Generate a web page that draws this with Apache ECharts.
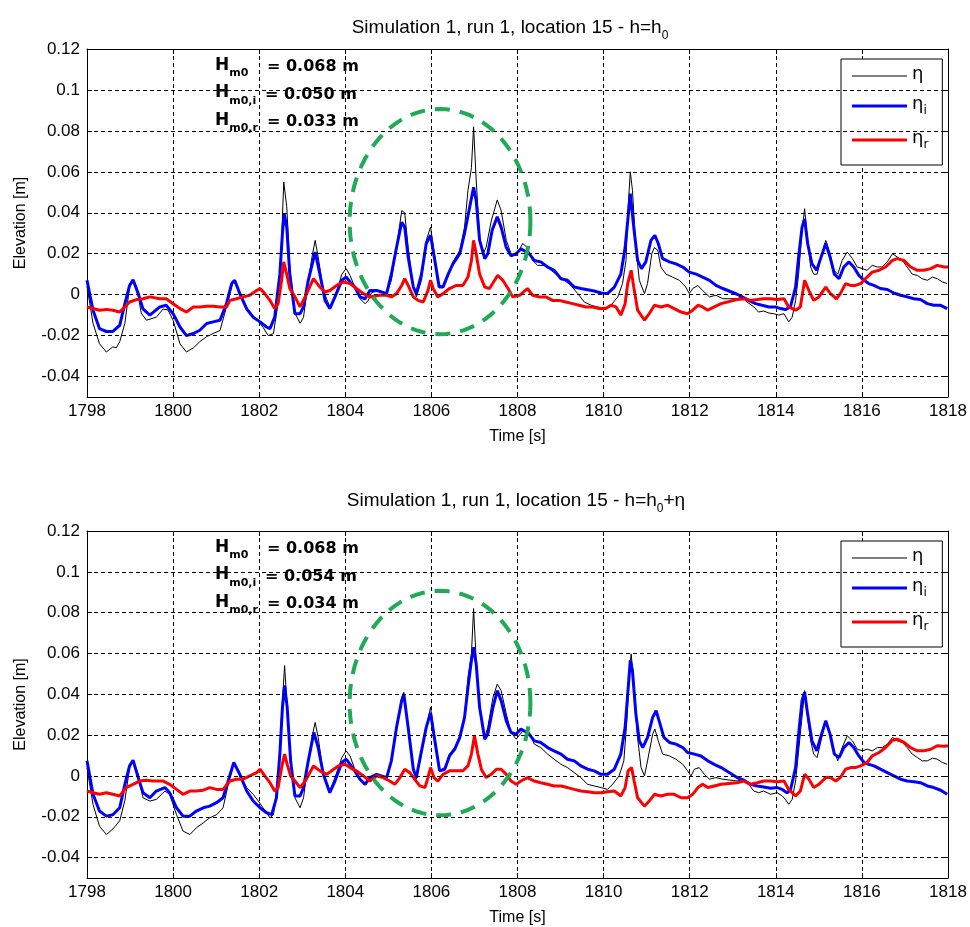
<!DOCTYPE html>
<html><head><meta charset="utf-8">
<script src="https://cdn.jsdelivr.net/npm/echarts@6/dist/echarts.min.js"></script>
<style>html,body{margin:0;padding:0;background:#fff}#c{width:970px;height:927px}</style>
</head><body><div id="c"></div>
<script>
// ---------- data ----------
const xTicks = [1798,1800,1802,1804,1806,1808,1810,1812,1814,1816,1818];
const yTicks = [-0.04,-0.02,0,0.02,0.04,0.06,0.08,0.1,0.12];
const titles = ['Simulation 1, run 1, location 15 - h=h', 'Simulation 1, run 1, location 15 - h=h'];
const titleTails = ['', '+η'];
const hm0Values = [['0.068','0.050','0.033'], ['0.068','0.054','0.034']];
const seriesNames = ['η','ηi','ηr'];

const topEta = [[1798.00,0.004],[1798.14,-0.014],[1798.29,-0.024],[1798.45,-0.028],[1798.60,-0.0255],[1798.68,-0.026],[1798.76,-0.023],[1798.88,-0.014],[1798.99,0.004],[1799.07,0.007],[1799.15,0.004],[1799.26,-0.009],[1799.38,-0.0125],[1799.61,-0.011],[1799.77,-0.007],[1799.88,-0.0075],[1800.00,-0.0125],[1800.16,-0.024],[1800.31,-0.028],[1800.47,-0.026],[1800.62,-0.023],[1800.78,-0.0205],[1800.93,-0.019],[1801.09,-0.0175],[1801.24,-0.006],[1801.40,0.007],[1801.51,0.003],[1801.63,-0.003],[1801.78,-0.009],[1801.94,-0.012],[1802.09,-0.016],[1802.21,-0.020],[1802.33,-0.019],[1802.44,-0.004],[1802.52,0.0265],[1802.57,0.055],[1802.64,0.043],[1802.71,0.0135],[1802.83,-0.009],[1802.95,-0.014],[1803.03,-0.011],[1803.14,0.007],[1803.24,0.020],[1803.30,0.0265],[1803.37,0.0184],[1803.49,0.002],[1803.64,-0.006],[1803.76,-0.0011],[1803.92,0.010],[1804.02,0.0127],[1804.11,0.0094],[1804.22,0.0037],[1804.34,-0.002],[1804.46,-0.0044],[1804.53,-0.003],[1804.61,0.001],[1804.80,0.002],[1804.96,0.0005],[1805.07,0.007],[1805.19,0.023],[1805.31,0.041],[1805.38,0.040],[1805.46,0.023],[1805.58,0.0037],[1805.65,-0.0011],[1805.77,0.007],[1805.88,0.0265],[1805.98,0.033],[1806.08,0.0184],[1806.15,0.0054],[1806.27,0.0037],[1806.39,0.010],[1806.50,0.016],[1806.66,0.0216],[1806.77,0.033],[1806.85,0.051],[1806.93,0.062],[1806.98,0.082],[1807.04,0.056],[1807.12,0.028],[1807.20,0.020],[1807.27,0.023],[1807.39,0.036],[1807.53,0.0463],[1807.62,0.041],[1807.74,0.0265],[1807.85,0.020],[1807.97,0.019],[1808.12,0.025],[1808.23,0.023],[1808.35,0.0167],[1808.47,0.0143],[1808.62,0.0143],[1808.78,0.0119],[1808.93,0.0094],[1809.09,0.007],[1809.24,0.0045],[1809.40,0.0005],[1809.55,-0.0036],[1809.71,-0.0052],[1809.86,-0.006],[1810.02,-0.0068],[1810.17,-0.0052],[1810.33,-0.0011],[1810.44,0.0054],[1810.52,0.0167],[1810.57,0.0428],[1810.62,0.060],[1810.67,0.051],[1810.75,0.023],[1810.83,0.007],[1810.95,0.0005],[1811.02,0.0054],[1811.12,0.020],[1811.18,0.023],[1811.26,0.0216],[1811.33,0.0135],[1811.45,0.010],[1811.60,0.0086],[1811.76,0.007],[1811.91,0.0037],[1811.99,0.0005],[1812.07,0.003],[1812.19,0.0045],[1812.30,0.002],[1812.46,-0.0011],[1812.61,-0.0003],[1812.77,-0.002],[1813.10,-0.002],[1813.22,-0.0011],[1813.33,-0.0036],[1813.49,-0.006],[1813.60,-0.0085],[1813.72,-0.008],[1813.84,-0.009],[1813.95,-0.0093],[1814.07,-0.010],[1814.19,-0.0093],[1814.30,-0.0133],[1814.38,-0.011],[1814.46,-0.0028],[1814.53,0.010],[1814.61,0.0314],[1814.67,0.042],[1814.73,0.028],[1814.81,0.0135],[1814.88,0.010],[1814.96,0.010],[1815.05,0.0184],[1815.16,0.0265],[1815.26,0.020],[1815.35,0.0119],[1815.44,0.010],[1815.54,0.0167],[1815.66,0.0208],[1815.78,0.0176],[1815.89,0.0135],[1816.01,0.0127],[1816.12,0.0119],[1816.24,0.0143],[1816.36,0.0135],[1816.47,0.0135],[1816.59,0.016],[1816.71,0.020],[1816.82,0.0184],[1816.94,0.0167],[1817.05,0.0135],[1817.17,0.010],[1817.29,0.0094],[1817.40,0.0078],[1817.52,0.007],[1817.64,0.0086],[1817.75,0.0078],[1817.87,0.0062],[1817.98,0.0054]];

const topEtaI = [[1798.00,0.007],[1798.14,-0.0076],[1798.29,-0.0166],[1798.45,-0.018],[1798.60,-0.018],[1798.76,-0.015],[1798.88,-0.0044],[1798.99,0.0045],[1799.07,0.0073],[1799.19,0.0005],[1799.30,-0.007],[1799.46,-0.010],[1799.69,-0.006],[1799.84,-0.0052],[1800.00,-0.0093],[1800.16,-0.0158],[1800.31,-0.020],[1800.47,-0.019],[1800.62,-0.0174],[1800.78,-0.0141],[1800.93,-0.0133],[1801.09,-0.0125],[1801.24,-0.0044],[1801.36,0.0054],[1801.43,0.007],[1801.55,0.0005],[1801.71,-0.007],[1801.86,-0.011],[1802.02,-0.0133],[1802.17,-0.0158],[1802.25,-0.0166],[1802.36,-0.011],[1802.48,0.010],[1802.54,0.030],[1802.58,0.0395],[1802.64,0.033],[1802.71,0.010],[1802.83,-0.0093],[1802.95,-0.0093],[1803.03,-0.006],[1803.14,0.007],[1803.30,0.0208],[1803.41,0.010],[1803.53,-0.0028],[1803.64,-0.0068],[1803.76,-0.0011],[1803.92,0.007],[1804.02,0.0086],[1804.11,0.0062],[1804.22,0.0037],[1804.34,-0.0011],[1804.46,-0.002],[1804.57,0.002],[1804.73,0.002],[1804.96,0.0005],[1805.07,0.010],[1805.19,0.023],[1805.31,0.0354],[1805.38,0.033],[1805.46,0.0184],[1805.58,0.0037],[1805.65,0.0005],[1805.77,0.010],[1805.88,0.025],[1805.98,0.029],[1806.08,0.0167],[1806.18,0.0037],[1806.27,0.0037],[1806.39,0.010],[1806.50,0.015],[1806.66,0.020],[1806.77,0.030],[1806.89,0.0428],[1806.98,0.0525],[1807.04,0.046],[1807.12,0.0265],[1807.24,0.0176],[1807.31,0.020],[1807.41,0.0314],[1807.53,0.038],[1807.62,0.033],[1807.74,0.023],[1807.85,0.019],[1807.97,0.020],[1808.08,0.0224],[1808.27,0.020],[1808.39,0.0167],[1808.54,0.016],[1808.70,0.0135],[1808.85,0.0119],[1809.01,0.0078],[1809.16,0.007],[1809.32,0.0037],[1809.47,0.003],[1809.63,0.0024],[1809.78,0.0018],[1809.94,0.0008],[1810.09,0.0005],[1810.25,0.0037],[1810.40,0.010],[1810.50,0.023],[1810.56,0.036],[1810.62,0.0493],[1810.70,0.033],[1810.79,0.0167],[1810.88,0.0127],[1810.98,0.016],[1811.10,0.0265],[1811.19,0.029],[1811.27,0.025],[1811.37,0.0176],[1811.53,0.016],[1811.68,0.015],[1811.84,0.0135],[1811.99,0.011],[1812.15,0.010],[1812.30,0.0086],[1812.46,0.007],[1812.61,0.0045],[1812.77,0.003],[1813.10,0.0002],[1813.22,-0.0011],[1813.37,-0.0028],[1813.53,-0.0044],[1813.68,-0.0052],[1813.84,-0.006],[1813.99,-0.006],[1814.11,-0.0068],[1814.22,-0.0073],[1814.34,-0.006],[1814.46,0.0037],[1814.53,0.0184],[1814.61,0.033],[1814.67,0.037],[1814.74,0.025],[1814.84,0.015],[1814.95,0.0119],[1815.04,0.0176],[1815.16,0.025],[1815.26,0.0184],[1815.36,0.010],[1815.47,0.0078],[1815.58,0.0135],[1815.70,0.016],[1815.81,0.0135],[1815.93,0.0094],[1816.05,0.007],[1816.16,0.0054],[1816.28,0.0045],[1816.43,0.003],[1816.59,0.0025],[1816.74,0.0008],[1816.90,-0.0003],[1817.05,-0.0011],[1817.21,-0.002],[1817.36,-0.0024],[1817.52,-0.0044],[1817.67,-0.0052],[1817.83,-0.0052],[1817.98,-0.0068]];

const topEtaR = [[1798.00,-0.006],[1798.14,-0.0068],[1798.29,-0.0076],[1798.45,-0.0072],[1798.60,-0.0076],[1798.76,-0.0085],[1798.88,-0.006],[1798.99,-0.0036],[1799.15,-0.0024],[1799.30,-0.002],[1799.46,-0.0011],[1799.69,-0.002],[1799.84,-0.002],[1800.00,-0.0044],[1800.16,-0.0068],[1800.31,-0.0085],[1800.47,-0.006],[1800.62,-0.006],[1800.78,-0.0057],[1800.93,-0.0057],[1801.09,-0.006],[1801.24,-0.006],[1801.32,-0.0028],[1801.47,-0.002],[1801.63,-0.0011],[1801.78,-0.0003],[1801.94,0.002],[1802.02,0.003],[1802.13,0.0005],[1802.25,-0.0028],[1802.36,-0.0068],[1802.44,-0.0044],[1802.52,0.007],[1802.57,0.016],[1802.64,0.010],[1802.71,0.003],[1802.83,-0.0011],[1802.95,-0.006],[1803.07,-0.001],[1803.26,0.0078],[1803.41,0.0037],[1803.53,0.0013],[1803.64,0.002],[1803.80,0.0045],[1803.95,0.0062],[1804.11,0.0054],[1804.26,0.003],[1804.42,0.0005],[1804.57,-0.0011],[1804.80,-0.0003],[1804.96,-0.0003],[1805.07,-0.0011],[1805.19,0.0005],[1805.31,0.0045],[1805.38,0.0078],[1805.46,0.0045],[1805.58,-0.0011],[1805.69,-0.0028],[1805.81,-0.0036],[1805.92,0.002],[1805.98,0.007],[1806.04,0.003],[1806.15,-0.0011],[1806.27,0.0005],[1806.42,0.003],[1806.58,0.0045],[1806.73,0.0045],[1806.85,0.0086],[1806.93,0.0167],[1806.98,0.0265],[1807.04,0.020],[1807.12,0.010],[1807.24,0.0037],[1807.35,0.003],[1807.47,0.007],[1807.54,0.0094],[1807.66,0.007],[1807.78,0.003],[1807.89,-0.0011],[1808.05,-0.0003],[1808.23,0.003],[1808.35,-0.0003],[1808.50,-0.0011],[1808.66,-0.0011],[1808.81,-0.0028],[1808.97,-0.0028],[1809.12,-0.0036],[1809.28,-0.0044],[1809.43,-0.0052],[1809.59,-0.006],[1809.74,-0.006],[1809.90,-0.0068],[1810.05,-0.0068],[1810.17,-0.0052],[1810.29,-0.006],[1810.40,-0.010],[1810.50,-0.0044],[1810.56,0.0054],[1810.64,0.0119],[1810.70,0.0037],[1810.79,-0.0076],[1810.95,-0.0125],[1811.06,-0.0093],[1811.18,-0.0052],[1811.33,-0.006],[1811.49,-0.0052],[1811.64,-0.0068],[1811.80,-0.0085],[1811.95,-0.0093],[1812.07,-0.0076],[1812.19,-0.0052],[1812.30,-0.006],[1812.42,-0.0076],[1812.57,-0.006],[1812.73,-0.0044],[1813.10,-0.0024],[1813.26,-0.002],[1813.41,-0.0028],[1813.57,-0.0024],[1813.72,-0.002],[1813.88,-0.002],[1814.03,-0.0024],[1814.19,-0.002],[1814.30,-0.006],[1814.46,-0.0076],[1814.57,-0.006],[1814.67,0.007],[1814.77,0.002],[1814.88,-0.0028],[1815.00,-0.0011],[1815.16,0.0037],[1815.27,0.0005],[1815.41,-0.002],[1815.50,0.0005],[1815.62,0.0054],[1815.74,0.0045],[1815.85,0.0045],[1815.97,0.0054],[1816.12,0.0086],[1816.24,0.011],[1816.40,0.0119],[1816.55,0.0135],[1816.71,0.0167],[1816.82,0.0176],[1816.98,0.0167],[1817.13,0.0135],[1817.29,0.0119],[1817.44,0.0119],[1817.60,0.0127],[1817.75,0.0143],[1817.91,0.0135],[1818.00,0.0135]];

const botEta = [[1798.00,0.004],[1798.14,-0.014],[1798.29,-0.0246],[1798.45,-0.0287],[1798.60,-0.026],[1798.76,-0.022],[1798.88,-0.012],[1798.99,0.004],[1799.07,0.0074],[1799.19,0.0008],[1799.30,-0.0107],[1799.46,-0.0123],[1799.61,-0.0115],[1799.81,-0.0074],[1799.92,-0.009],[1800.08,-0.019],[1800.23,-0.027],[1800.39,-0.0287],[1800.54,-0.0254],[1800.70,-0.023],[1800.85,-0.0205],[1801.01,-0.019],[1801.16,-0.0156],[1801.28,-0.0041],[1801.41,0.0066],[1801.55,0.0],[1801.71,-0.0057],[1801.86,-0.009],[1801.98,-0.0123],[1802.09,-0.0156],[1802.25,-0.0205],[1802.33,-0.019],[1802.43,-0.0041],[1802.52,0.030],[1802.59,0.054],[1802.65,0.0336],[1802.73,0.0074],[1802.83,-0.0107],[1802.95,-0.0156],[1803.03,-0.0107],[1803.14,0.0074],[1803.24,0.0205],[1803.30,0.0262],[1803.37,0.0189],[1803.49,0.0008],[1803.64,-0.0074],[1803.76,-0.0008],[1803.92,0.009],[1804.02,0.0123],[1804.11,0.0098],[1804.22,0.0033],[1804.34,-0.0016],[1804.46,-0.0041],[1804.57,-0.0008],[1804.73,0.0008],[1804.96,-0.0008],[1805.07,0.0074],[1805.19,0.0238],[1805.31,0.0385],[1805.36,0.041],[1805.46,0.0238],[1805.58,0.0033],[1805.65,-0.0016],[1805.77,0.0107],[1805.88,0.0238],[1805.98,0.0336],[1806.08,0.0189],[1806.19,0.0025],[1806.31,0.0041],[1806.42,0.0107],[1806.54,0.014],[1806.66,0.0189],[1806.77,0.0287],[1806.85,0.0484],[1806.93,0.0598],[1806.98,0.082],[1807.04,0.0566],[1807.12,0.0336],[1807.24,0.0189],[1807.31,0.0238],[1807.43,0.0385],[1807.53,0.045],[1807.62,0.0418],[1807.74,0.0303],[1807.85,0.0213],[1807.97,0.018],[1808.12,0.022],[1808.27,0.0213],[1808.39,0.0156],[1808.54,0.0139],[1808.70,0.0107],[1808.85,0.0082],[1809.01,0.0057],[1809.16,0.0041],[1809.32,0.0016],[1809.47,-0.0008],[1809.63,-0.0041],[1809.78,-0.0049],[1809.94,-0.0057],[1810.09,-0.0066],[1810.21,-0.0041],[1810.36,0.0],[1810.47,0.0074],[1810.54,0.027],[1810.60,0.0516],[1810.64,0.0598],[1810.70,0.0467],[1810.78,0.0205],[1810.87,0.0041],[1810.95,0.0],[1811.02,0.0074],[1811.14,0.0205],[1811.19,0.023],[1811.27,0.0172],[1811.37,0.0107],[1811.53,0.0098],[1811.68,0.0082],[1811.84,0.0057],[1811.95,0.0025],[1812.03,0.0],[1812.11,0.0033],[1812.22,0.0041],[1812.34,0.0008],[1812.46,-0.0016],[1812.61,-0.0008],[1812.77,-0.0016],[1813.10,-0.0025],[1813.26,-0.0016],[1813.37,-0.0041],[1813.49,-0.0074],[1813.60,-0.0082],[1813.72,-0.0074],[1813.88,-0.009],[1814.03,-0.0082],[1814.15,-0.0098],[1814.22,-0.0115],[1814.30,-0.0139],[1814.38,-0.0115],[1814.46,-0.0025],[1814.53,0.0123],[1814.60,0.027],[1814.67,0.0418],[1814.73,0.0303],[1814.81,0.0172],[1814.88,0.0107],[1814.96,0.009],[1815.05,0.0172],[1815.16,0.027],[1815.26,0.0205],[1815.35,0.0123],[1815.44,0.0074],[1815.54,0.0139],[1815.66,0.0197],[1815.78,0.0172],[1815.89,0.0131],[1816.01,0.0123],[1816.12,0.0131],[1816.24,0.0123],[1816.36,0.0139],[1816.47,0.0139],[1816.59,0.0156],[1816.71,0.0189],[1816.82,0.0172],[1816.94,0.0164],[1817.05,0.0139],[1817.17,0.0107],[1817.29,0.009],[1817.40,0.0074],[1817.52,0.0074],[1817.64,0.0087],[1817.75,0.0082],[1817.87,0.0066],[1817.98,0.0057]];

const botEtaI = [[1798.00,0.0074],[1798.14,-0.009],[1798.29,-0.0172],[1798.45,-0.0197],[1798.60,-0.019],[1798.76,-0.0156],[1798.88,-0.0041],[1798.99,0.005],[1799.07,0.0077],[1799.19,-0.0008],[1799.30,-0.0082],[1799.46,-0.0107],[1799.61,-0.0074],[1799.81,-0.0057],[1799.92,-0.0082],[1800.08,-0.0156],[1800.23,-0.0197],[1800.39,-0.0197],[1800.54,-0.0172],[1800.70,-0.0156],[1800.85,-0.0148],[1801.01,-0.0131],[1801.16,-0.0107],[1801.28,-0.0025],[1801.41,0.0066],[1801.55,0.0008],[1801.71,-0.0074],[1801.86,-0.0123],[1802.02,-0.0156],[1802.17,-0.018],[1802.29,-0.019],[1802.40,-0.0107],[1802.48,0.0107],[1802.54,0.0336],[1802.59,0.0443],[1802.65,0.0336],[1802.73,0.0074],[1802.83,-0.0098],[1802.95,-0.0098],[1803.03,-0.0057],[1803.14,0.0074],[1803.27,0.0213],[1803.37,0.0139],[1803.49,0.0008],[1803.64,-0.0082],[1803.76,-0.0025],[1803.92,0.0066],[1804.02,0.0082],[1804.11,0.0057],[1804.22,0.0025],[1804.34,-0.0016],[1804.46,-0.0041],[1804.57,-0.0008],[1804.73,0.0008],[1804.96,-0.0008],[1805.07,0.0074],[1805.19,0.0238],[1805.31,0.0369],[1805.36,0.040],[1805.46,0.0238],[1805.58,0.0033],[1805.65,-0.0008],[1805.77,0.0123],[1805.88,0.0238],[1805.98,0.031],[1806.08,0.0172],[1806.19,0.0025],[1806.31,0.0033],[1806.42,0.0098],[1806.54,0.013],[1806.66,0.0189],[1806.77,0.0287],[1806.85,0.0434],[1806.93,0.0566],[1806.98,0.063],[1807.04,0.055],[1807.12,0.0336],[1807.24,0.018],[1807.31,0.0205],[1807.43,0.0336],[1807.53,0.0418],[1807.62,0.0369],[1807.74,0.027],[1807.85,0.0213],[1807.97,0.0205],[1808.08,0.023],[1808.27,0.0205],[1808.39,0.0172],[1808.54,0.0164],[1808.70,0.0139],[1808.85,0.0123],[1809.01,0.0107],[1809.16,0.0082],[1809.32,0.0074],[1809.47,0.0049],[1809.63,0.0033],[1809.78,0.0025],[1809.94,0.0008],[1810.09,0.0008],[1810.25,0.0033],[1810.40,0.0107],[1810.50,0.0238],[1810.56,0.040],[1810.62,0.0566],[1810.67,0.0516],[1810.75,0.0303],[1810.83,0.0172],[1810.91,0.0139],[1811.02,0.0189],[1811.14,0.0287],[1811.22,0.032],[1811.29,0.027],[1811.40,0.0189],[1811.53,0.0164],[1811.68,0.0156],[1811.84,0.0139],[1811.95,0.0115],[1812.11,0.0107],[1812.26,0.0098],[1812.42,0.0074],[1812.57,0.0057],[1812.73,0.0041],[1813.10,-0.0008],[1813.26,-0.0021],[1813.41,-0.0041],[1813.57,-0.0049],[1813.72,-0.0054],[1813.88,-0.006],[1814.03,-0.0057],[1814.15,-0.0066],[1814.26,-0.0082],[1814.34,-0.007],[1814.46,0.0041],[1814.53,0.0205],[1814.61,0.0369],[1814.67,0.041],[1814.74,0.0303],[1814.84,0.0172],[1814.95,0.0123],[1815.04,0.0189],[1815.16,0.027],[1815.26,0.0205],[1815.36,0.0107],[1815.47,0.009],[1815.58,0.0139],[1815.70,0.0164],[1815.81,0.0139],[1815.93,0.0098],[1816.05,0.0066],[1816.16,0.0057],[1816.28,0.0049],[1816.43,0.0033],[1816.59,0.0016],[1816.74,0.0],[1816.90,-0.0016],[1817.05,-0.0025],[1817.21,-0.0028],[1817.36,-0.0033],[1817.52,-0.0049],[1817.67,-0.0057],[1817.83,-0.007],[1817.98,-0.009]];

const botEtaR = [[1798.00,-0.0074],[1798.14,-0.0082],[1798.29,-0.009],[1798.45,-0.0082],[1798.60,-0.009],[1798.76,-0.0098],[1798.91,-0.0057],[1799.07,-0.0041],[1799.22,-0.0025],[1799.38,-0.0021],[1799.53,-0.0025],[1799.77,-0.0025],[1799.92,-0.0041],[1800.08,-0.0066],[1800.23,-0.009],[1800.39,-0.0074],[1800.54,-0.0074],[1800.70,-0.007],[1800.85,-0.0057],[1801.01,-0.0066],[1801.16,-0.0066],[1801.32,-0.0025],[1801.47,-0.0016],[1801.63,-0.0016],[1801.78,0.0],[1801.94,0.0016],[1802.02,0.0033],[1802.13,0.0],[1802.25,-0.0033],[1802.36,-0.0074],[1802.44,-0.0057],[1802.52,0.004],[1802.59,0.0107],[1802.65,0.0057],[1802.73,0.0],[1802.83,-0.0025],[1802.95,-0.0057],[1803.07,-0.0025],[1803.26,0.0049],[1803.41,0.0025],[1803.57,0.0008],[1803.68,0.0025],[1803.84,0.0049],[1803.99,0.0057],[1804.11,0.0041],[1804.26,0.0025],[1804.42,0.0],[1804.57,-0.0025],[1804.73,0.0],[1804.88,-0.0008],[1805.03,-0.0025],[1805.15,-0.0041],[1805.27,-0.0008],[1805.38,0.0033],[1805.50,0.0016],[1805.61,-0.0016],[1805.73,-0.0049],[1805.85,-0.0057],[1805.92,-0.0008],[1805.98,0.0041],[1806.06,-0.0008],[1806.15,-0.0025],[1806.27,0.0008],[1806.42,0.0025],[1806.58,0.0025],[1806.73,0.0025],[1806.85,0.0049],[1806.93,0.0107],[1807.00,0.0197],[1807.08,0.0107],[1807.16,0.0033],[1807.27,-0.0008],[1807.39,0.0008],[1807.51,0.0033],[1807.62,0.0033],[1807.74,0.0008],[1807.85,-0.0025],[1807.97,-0.0041],[1808.08,-0.0025],[1808.23,-0.0008],[1808.39,-0.0025],[1808.54,-0.0033],[1808.70,-0.0041],[1808.85,-0.0049],[1809.01,-0.0049],[1809.16,-0.0057],[1809.32,-0.0066],[1809.47,-0.0074],[1809.63,-0.0077],[1809.78,-0.0082],[1809.94,-0.0082],[1810.09,-0.0077],[1810.25,-0.0074],[1810.40,-0.0098],[1810.50,-0.0057],[1810.57,0.0025],[1810.65,0.0041],[1810.71,-0.0025],[1810.79,-0.0107],[1810.95,-0.0148],[1811.06,-0.0123],[1811.18,-0.009],[1811.33,-0.0098],[1811.49,-0.009],[1811.64,-0.009],[1811.80,-0.0107],[1811.95,-0.0107],[1812.07,-0.009],[1812.19,-0.0057],[1812.30,-0.0041],[1812.42,-0.0057],[1812.57,-0.0049],[1812.73,-0.0041],[1813.10,-0.0033],[1813.26,-0.0025],[1813.41,-0.0041],[1813.57,-0.0033],[1813.72,-0.0025],[1813.88,-0.0025],[1814.03,-0.0028],[1814.19,-0.0025],[1814.30,-0.0066],[1814.46,-0.0098],[1814.57,-0.0074],[1814.67,0.0008],[1814.77,-0.0016],[1814.88,-0.0057],[1815.00,-0.0041],[1815.16,-0.0008],[1815.27,-0.0008],[1815.39,-0.0025],[1815.50,-0.0008],[1815.62,0.0033],[1815.74,0.0041],[1815.85,0.0041],[1815.97,0.0049],[1816.12,0.0066],[1816.24,0.0098],[1816.40,0.0115],[1816.55,0.0139],[1816.71,0.0175],[1816.82,0.018],[1816.98,0.0164],[1817.13,0.0139],[1817.29,0.0123],[1817.44,0.0123],[1817.60,0.0131],[1817.75,0.0148],[1817.91,0.0145],[1818.00,0.0148]];

// annotation ellipse (data units): centre time, centre elevation, half-width, half-height
const ellipseSpec = [1806.2, 0.0357, 2.1, 0.0550];

// ---------- chart ----------
const FONT = "'Liberation Sans',Arial,sans-serif";
const BOLD = "'DejaVu Sans',sans-serif";
const grids = [{left:87, right:22, top:49, height:348}, {left:87, right:22, top:531, height:347}];
const titleX = [510, 516];
const titleY = [30, 503];
const dataSets = [[topEta, topEtaI, topEtaR], [botEta, botEtaI, botEtaR]];
const colors = ['#000000', '#0000ff', '#ff0000'];
const widths = [1, 3, 3];
// legend line icons (bounding box 55x14 fixed by the leading move-to points)
const legendIcons = ['path://M0,0M55,14M0,6.5h55v1h-55z', 'path://M0,0M55,14M0,5.5h55v3h-55z', 'path://M0,0M55,14M0,5.5h55v3h-55z'];

function fmtY(v) {
  const k = Math.round(v * 100);
  if (k % 2 !== 0) return '';
  return String(+(k / 100).toFixed(2));
}

const xAxes = [], yAxes = [], series = [], legends = [];
grids.forEach((g, gi) => {
  xAxes.push({
    type:'value', gridIndex:gi, min:1798, max:1818, interval:2, position:'bottom',
    name:'Time [s]', nameLocation:'middle', nameGap:32,
    nameTextStyle:{fontFamily:FONT, fontSize:16, color:'#000'},
    axisLine:{show:true, onZero:false, lineStyle:{color:'#000', width:1}},
    axisTick:{show:true, inside:true, length:5, lineStyle:{color:'#000'}},
    axisLabel:{fontFamily:FONT, fontSize:17, color:'#000', margin:6, formatter: v => String(v)},
    splitLine:{show:true, lineStyle:{color:'#000', type:[4,3], width:1}}
  });
  xAxes.push({
    type:'value', gridIndex:gi, min:1798, max:1818, interval:2, position:'top',
    axisLine:{show:true, onZero:false, lineStyle:{color:'#000', width:1}},
    axisTick:{show:true, inside:true, length:5, lineStyle:{color:'#000'}},
    axisLabel:{show:false}, splitLine:{show:false}
  });
  yAxes.push({
    type:'value', gridIndex:gi, min:-0.05, max:0.12, interval:0.01, position:'left',
    name:'Elevation [m]', nameLocation:'middle', nameGap:58, nameRotate:90,
    nameTextStyle:{fontFamily:FONT, fontSize:16, color:'#000'},
    axisLine:{show:true, onZero:false, lineStyle:{color:'#000', width:1}},
    axisTick:{show:true, inside:true, length:5, customValues:yTicks, lineStyle:{color:'#000'}},
    axisLabel:{fontFamily:FONT, fontSize:17, color:'#000', margin:7, customValues:yTicks, formatter:fmtY},
    splitLine:{show:false}
  });
  yAxes.push({
    type:'value', gridIndex:gi, min:-0.05, max:0.12, interval:0.01, position:'right',
    axisLine:{show:true, onZero:false, lineStyle:{color:'#000', width:1}},
    axisTick:{show:true, inside:true, length:5, customValues:yTicks, lineStyle:{color:'#000'}},
    axisLabel:{show:false}, splitLine:{show:false}
  });
  // horizontal dotted grid lines at the labelled ticks
  series.push({
    type:'line', name:'grid'+gi, xAxisIndex:gi*2, yAxisIndex:gi*2, data:[], silent:true, z:1,
    markLine:{
      silent:true, symbol:['none','none'], animation:false, label:{show:false},
      lineStyle:{color:'#000', type:[4,3], width:1},
      data: yTicks.filter(v => v > -0.05 && v < 0.12).map(v => ({yAxis:v}))
    }
  });
  dataSets[gi].forEach((d, si) => {
    series.push({
      type:'line', name:seriesNames[si], xAxisIndex:gi*2, yAxisIndex:gi*2, data:d,
      symbol:'none', showSymbol:false, smooth:false, z:2+si,
      lineStyle:{color:colors[si], width:widths[si]}, itemStyle:{color:colors[si]},
      emphasis:{disabled:true}
    });
  });
  legends.push({
    data: seriesNames.map((n, si) => ({name:n, icon:legendIcons[si], itemStyle:{color:colors[si], borderWidth:0}})),
    orient:'vertical', left:841, top:g.top + 10,
    itemWidth:55, itemHeight:14, itemGap:12,
    padding:[6,14,14,11], borderColor:'#000', borderWidth:1, backgroundColor:'#fff',
    selectedMode:false,
    formatter: n => n === 'η' ? '{g|η}' : '{g|η}{s|' + n.slice(1) + '}',
    textStyle:{color:'#000', rich:{
      g:{fontFamily:"'DejaVu Sans',sans-serif", fontSize:18, color:'#000', padding:[0,0,4,0], verticalAlign:'bottom'},
      s:{fontFamily:"'DejaVu Sans',sans-serif", fontSize:12, color:'#000', verticalAlign:'bottom'}
    }}
  });
});

const graphics = [];
grids.forEach((g, gi) => {
  graphics.push({
    type:'text', x:titleX[gi], y:titleY[gi], silent:true,
    style:{
      text:'{t|' + titles[gi] + '}{s|0}{t|' + titleTails[gi] + '}',
      align:'center', verticalAlign:'middle',
      rich:{
        t:{fontFamily:FONT, fontSize:19, fill:'#000', padding:[0,0,4,0], verticalAlign:'bottom'},
        s:{fontFamily:FONT, fontSize:12, fill:'#000', verticalAlign:'bottom'}
      }
    }
  });
  const subs = ['m0', 'm0,i', 'm0,r'];
  const eqX = [267, 265, 267];
  subs.forEach((s, k) => {
    const y = g.top + 19 + k * 27.5;
    graphics.push({
      type:'text', x:215, y:y, silent:true,
      style:{
        text:'{h|H}{s|' + s + '}', verticalAlign:'middle',
        rich:{
          h:{fontFamily:BOLD, fontWeight:'bold', fontSize:17, fill:'#000', padding:[0,0,5,0], verticalAlign:'bottom'},
          s:{fontFamily:BOLD, fontWeight:'bold', fontSize:11, fill:'#000', verticalAlign:'bottom'}
        }
      }
    });
    graphics.push({
      type:'text', x:eqX[k], y:y - 1, silent:true,
      style:{text:'= ' + hm0Values[gi][k] + ' m', verticalAlign:'middle',
        fontFamily:BOLD, fontWeight:'bold', fontSize:16, fill:'#000'}
    });
  });
});

const chart = echarts.init(document.getElementById('c'), null, {renderer:'canvas'});
chart.setOption({
  animation:false, backgroundColor:'#fff',
  grid: grids.map(g => Object.assign({show:false, containLabel:false}, g)),
  xAxis:xAxes, yAxis:yAxes, series:series, legend:legends, graphic:graphics
});

// dashed green ellipse annotation in each panel
const ell = [];
grids.forEach((g, gi) => {
  const pts = [];
  for (let k = 0; k <= 96; k++) {
    const a = k / 96 * Math.PI * 2;
    pts.push(chart.convertToPixel({gridIndex:gi}, [ellipseSpec[0] + ellipseSpec[2] * Math.cos(a), ellipseSpec[1] + ellipseSpec[3] * Math.sin(a)]));
  }
  ell.push({type:'polyline', silent:true, z:10, shape:{points:pts},
    style:{stroke:'#1faa55', lineWidth:4, lineDash:[15,10], fill:null}});
});
chart.setOption({graphic: graphics.concat(ell)});
</script>
</body></html>
